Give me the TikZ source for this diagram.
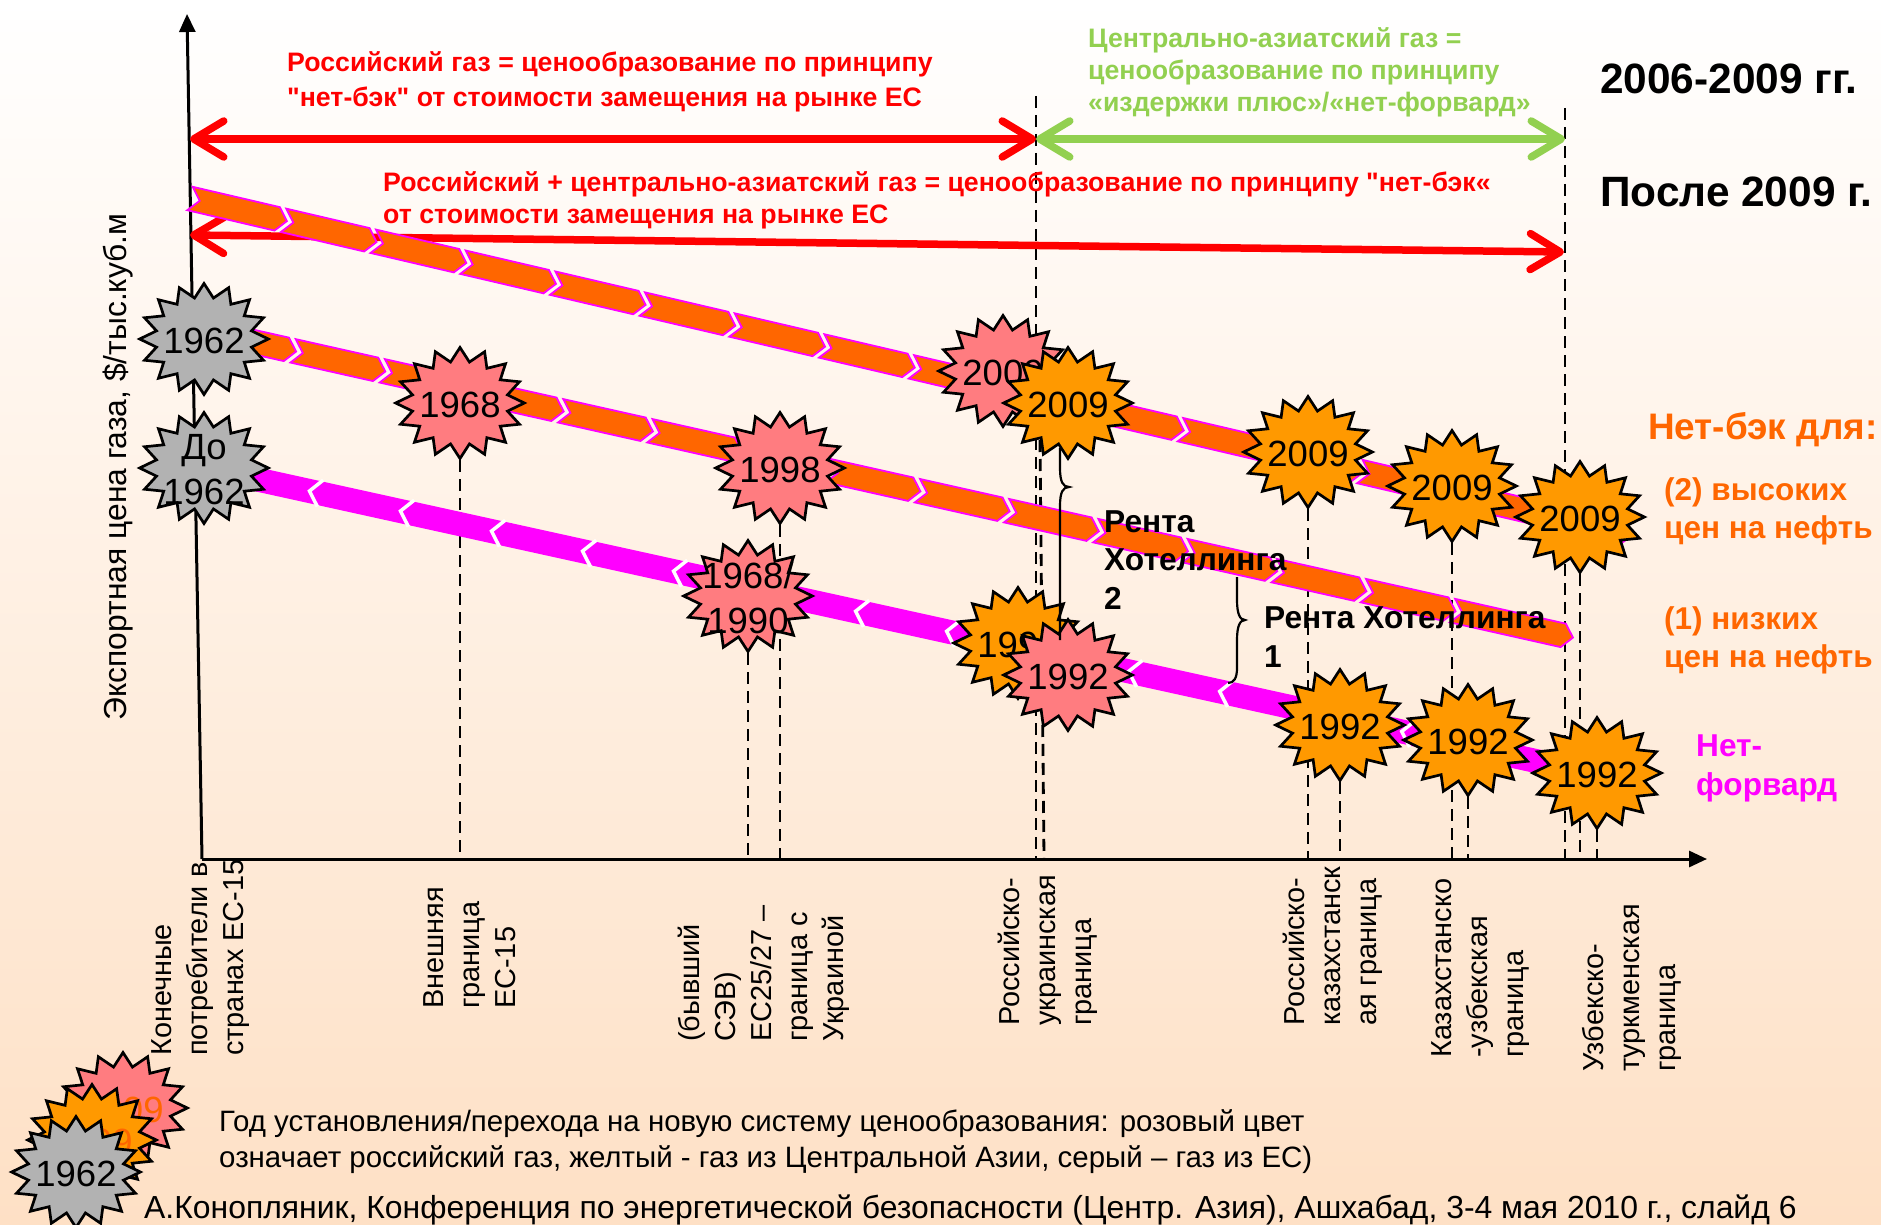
\documentclass[tikz,border=0pt]{standalone}
\usepackage{fontspec}
\setmainfont[Ligatures=TeXOff]{Liberation Sans}
\usetikzlibrary{shapes.geometric,arrows.meta}
\pgfdeclarelayer{under}
\pgfsetlayers{under,main}
\definecolor{peach}{HTML}{FEE0C5}
\definecolor{pinkst}{HTML}{FF7C80}
\definecolor{orangest}{HTML}{FF9900}
\definecolor{grayst}{HTML}{B2B2B2}
\definecolor{ribbonor}{HTML}{FF6600}
\definecolor{greenl}{HTML}{92D050}
\definecolor{magn}{HTML}{FF00FF}
\newcommand{\fs}[2]{\fontsize{#1}{#2}\selectfont}
\newcommand{\burst}[5]{%
  \node[burststar,fill=#3] (#1) at (#2) {};
  \node[bursttext,text=#5,yshift=-2pt] (#1-t) at (#1) {#4};
}
\tikzset{
  burststar/.style={star,star points=16,star point ratio=1.33,minimum size=111pt,inner sep=0pt,
     draw=black,line width=2.7pt,xscale=1.16,transform shape},
  bursttext/.style={font=\fs{36.5}{45},align=center,inner sep=0pt},
  axisln/.style={line width=3pt,black,-{Triangle[length=18pt,width=16pt]}},
  dashln/.style={line width=2.8pt,black,dash pattern=on 12pt off 7pt},
  bigarrow/.style={line width=7.5pt,{Straight Barb[length=30pt,width=36pt,round]}-{Straight Barb[length=30pt,width=36pt,round]},line cap=round},
  chev/.style={fill=ribbonor,draw=magn,line width=1.8pt,line join=miter},
  redtxt/.style={font=\bfseries\fs{26.7}{35},text=red,align=left,anchor=west,inner sep=0pt},
  grntxt/.style={font=\bfseries\fs{26.7}{32},text=greenl,align=left,anchor=west,inner sep=0pt},
  blktxt/.style={font=\bfseries\fs{31.7}{38.5},text=black,align=left,anchor=west,inner sep=0pt},
  hdtxt/.style={font=\bfseries\fs{42.4}{45},text=black,anchor=west,inner sep=0pt},
  ortxt/.style={font=\bfseries\fs{31.5}{38.5},text=ribbonor,align=left,anchor=west,inner sep=0pt},
  magtxt/.style={font=\bfseries\fs{31.6}{39},text=magn,align=left,anchor=west,inner sep=0pt},
  axlab/.style={font=\fs{28.9}{36},rotate=90,anchor=north west,align=left,inner sep=0pt},
  plain/.style={font=\fs{29.45}{36},align=left,anchor=west,inner sep=0pt},
  bracel/.style={line width=2.2pt,black},
}
\begin{document}
\begin{tikzpicture}[x=1pt,y=-1pt]
\useasboundingbox (0,0) rectangle (1881,1225);

% axis anchors
\coordinate (axO) at (202,859);
\coordinate (axT) at (187,14);
\coordinate (axR) at (1707,859);

% arrows
\coordinate (aL) at (190,139);
\coordinate (aM) at (1036,139);
\coordinate (aR) at (1565,139);
\coordinate (bL) at (190,235);
\coordinate (bR) at (1564,252);
\coordinate (regA) at (1036,96);
\coordinate (regB) at (1565,108);

\draw[axisln] (axO) -- (axT);
\draw[axisln] (axO) -- (axR);
\draw[bigarrow,red] (aL) -- (aM);
\draw[bigarrow,greenl] (aM) -- (aR);
\draw[bigarrow,red] (bL) -- (bR);

% top orange ribbon
\begin{scope}[shift={(190,198.5)},x={(0.9738pt,-0.2273pt)},y={(-0.2273pt,-0.9738pt)}]
  \foreach \i in {0,...,15}{
    \pgfmathsetmacro{\s}{\i*92.1+(\i>0)*4}
    \pgfmathsetmacro{\e}{\i*92.1+99.5}
    \pgfmathsetmacro{\m}{\e-10}
    \pgfmathsetmacro{\n}{\s+10}
    \path[chev] (\s,-12) -- (\m,-12) -- (\e,0) -- (\m,12) -- (\s,12) -- (\n,0) -- cycle;
  }
\end{scope}
% second orange ribbon
\begin{scope}[shift={(200,330)},x={(0.9758pt,-0.2186pt)},y={(-0.2186pt,-0.9758pt)}]
  \foreach \i in {0,...,13}{
    \pgfmathsetmacro{\s}{\i*91.4+(\i>0)*4}
    \pgfmathsetmacro{\e}{\i*91.4+98.5}
    \pgfmathsetmacro{\m}{\e-10}
    \pgfmathsetmacro{\n}{\s+10}
    \path[chev] (\s,-12) -- (\m,-12) -- (\e,0) -- (\m,12) -- (\s,12) -- (\n,0) -- cycle;
  }
  \path[chev] (1283.6,-12) -- (1397,-12) -- (1407,0) -- (1397,12) -- (1283.6,12) -- (1293.6,0) -- cycle;
\end{scope}
% magenta ribbon
\begin{scope}[shift={(205,468)},x={(0.9766pt,-0.2150pt)},y={(-0.2150pt,-0.9766pt)}]
  \fill[magn] (0,-12) -- (1420,-12) -- (1420,12) -- (0,12) -- cycle;
  \foreach \i in {0,...,13}{
    \pgfmathsetmacro{\s}{107+\i*93.2}
    \pgfmathsetmacro{\m}{\s+11}
    \draw[white,line width=3.5pt] (\m,-13.5) -- (\s,0) -- (\m,13.5);
  }
\end{scope}

% bursts
\burst{a62}{204,339}{grayst}{1962}{black}
\burst{a60}{204,468}{grayst}{До\\1962}{black}
\burst{p68}{460,403}{pinkst}{1968}{black}
\burst{p98}{780,468}{pinkst}{1998}{black}
\burst{p90}{748,596}{pinkst}{1968/\\1990}{black}
\burst{p09}{1003,371}{pinkst}{2009}{black}
\burst{o09a}{1068,403}{orangest}{2009}{black}
\burst{o09b}{1308,452}{orangest}{2009}{black}
\burst{o09c}{1452,486}{orangest}{2009}{black}
\burst{o09d}{1580,517}{orangest}{2009}{black}
\burst{o92z}{1018,643}{orangest}{1992}{black}
\burst{p92}{1068,675}{pinkst}{1992}{black}
\burst{o92a}{1340,725}{orangest}{1992}{black}
\burst{o92b}{1468,740}{orangest}{1992}{black}
\burst{o92c}{1597,773}{orangest}{1992}{black}
\burst{lp}{123,1108}{pinkst}{2009}{ribbonor}
\burst{lo}{92,1140}{orangest}{2009}{ribbonor}
\burst{lg}{76,1172}{grayst}{1962}{black}

% dashed guides
\begin{pgfonlayer}{under}
  \shade[top color=white,bottom color=peach] (0,0) rectangle (1881,1225);
  \coordinate (dz) at (1044,859);
  \coordinate (dq) at (1040,440);
  \draw[dashln] (regA) -- (regA |- axO);
  \draw[dashln] (regB) -- (regB |- axO);
  \draw[dashln] (dq) -- (dz);
  \foreach \n in {p68,p90,p98,o09b,o92a,o09c,o92b,o09d,o92c}{
    \draw[dashln] (\n.center) -- (\n.center |- axO);
  }
\end{pgfonlayer}

% braces
\coordinate (brA1) at (1060,448);
\coordinate (brA2) at (1060,640);
\draw[bracel] (brA1) -- (1060,468) .. controls (1060,482) and (1063,487) .. (1069,487)
   .. controls (1063,487) and (1060,492) .. (1060,506) -- (brA2);
\coordinate (brB1) at (1237,577);
\coordinate (brB2) at (1228,683);
\draw[bracel] (brB1) -- (1237,600) .. controls (1237,614) and (1240,620) .. (1245,620)
   .. controls (1240,620) and (1237,626) .. (1237,640) -- (1237,668) .. controls (1237,678) and (1234,683) .. (brB2);

% texts
\node[redtxt] (t1) at (287,82) {Российский газ = ценообразование по принципу\\"нет-бэк" от стоимости замещения на рынке ЕС};
\node[grntxt] (t2) at (1088,72.5) {Центрально-азиатский газ =\\ценообразование по принципу\\«издержки плюс»/«нет-форвард»};
\node[hdtxt] (t3) at (1600,79) {2006-2009 гг.};
\node[hdtxt] (t4) at (1600,192) {После 2009 г.};
\node[redtxt,font=\bfseries\fs{26.7}{32}] (t5) at (383,200.5) {Российский + центрально-азиатский газ = ценообразование по принципу "нет-бэк«\\от стоимости замещения на рынке ЕС};
\node[font=\fs{31.8}{36},rotate=90,inner sep=0pt] (t6) at (118,467) {Экспортная цена газа,  \$/тыс.куб.м};
\node[blktxt] (t7) at (1104,560) {Рента\\Хотеллинга\\2};
\node[blktxt] (t8) at (1264,637) {Рента Хотеллинга\\1};
\node[ortxt,font=\bfseries\fs{36.9}{40}] (t9) at (1648,430) {Нет-бэк для:};
\node[ortxt] (t10) at (1664,511.5) {(2) высоких\\цен на нефть};
\node[ortxt] (t11) at (1664,640.5) {(1) низких\\цен на нефть};
\node[magtxt] (t12) at (1696,768.5) {Нет-\\форвард};

\node[axlab] (l1) at (151,1056) {Конечные\\потребители в\\странах ЕС-15};
\node[axlab] (l2) at (423,1009) {Внешняя\\граница\\ЕС-15};
\node[axlab] (l3) at (677.5,1042) {(бывший\\СЭВ)\\ЕС25/27 –\\граница с\\Украиной};
\node[axlab] (l4) at (997.5,1026) {Российско-\\украинская\\граница};
\node[axlab] (l5) at (1282.5,1026) {Российско-\\казахстанск\\ая граница};
\node[axlab] (l6) at (1431,1058) {Казахстанско\\-узбекская\\граница};
\node[axlab] (l7) at (1582,1072) {Узбекско-\\туркменская\\граница};

\node[plain] (t13) at (219,1141.5) {Год установления/перехода на новую систему ценообразования: розовый цвет\\означает российский газ, желтый - газ из Центральной Азии, серый – газ из ЕС)};
\node[plain,font=\fs{31.9}{36}] (t14) at (144,1210) {А.Конопляник, Конференция по энергетической безопасности (Центр. Азия), Ашхабад, 3-4 мая 2010 г., слайд 6};
\end{tikzpicture}
\end{document}
